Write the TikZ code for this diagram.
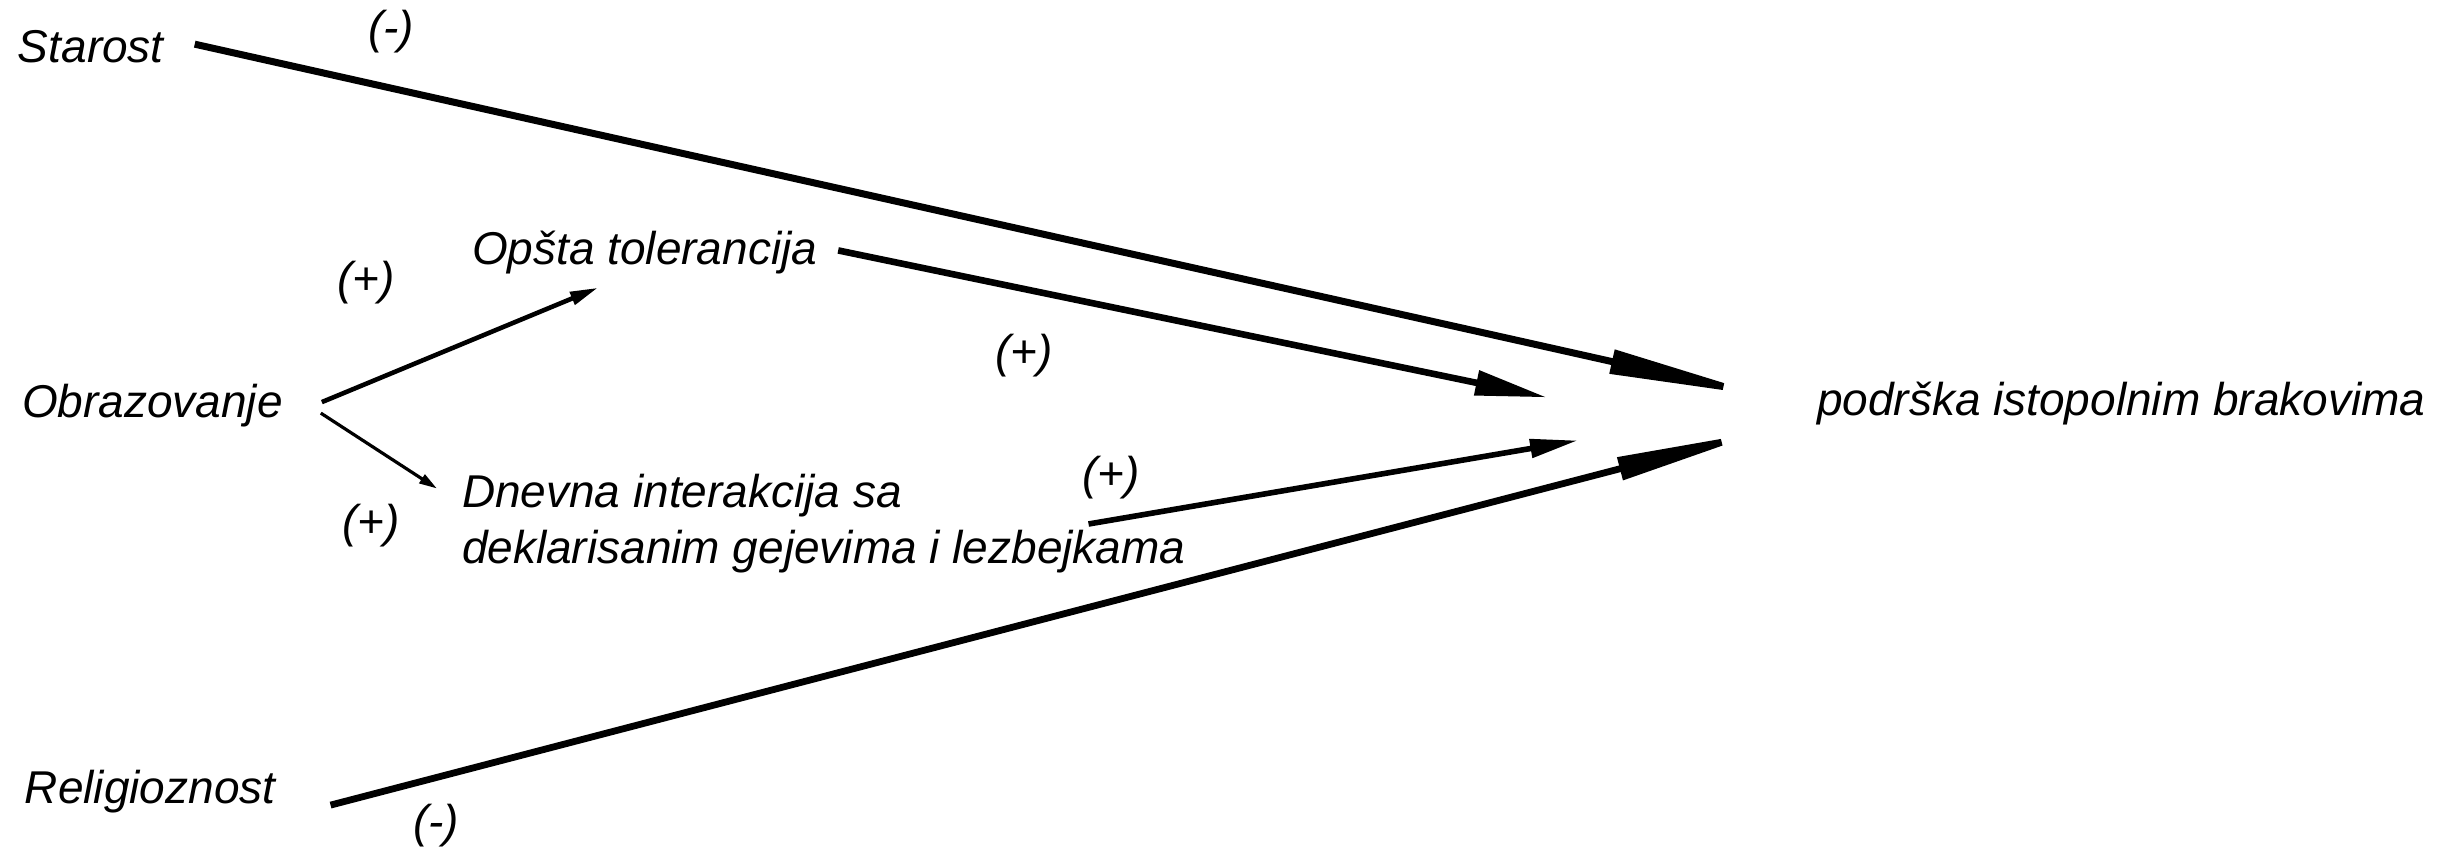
\documentclass[tikz,border=0pt]{standalone}
\usepackage{fontspec}
\setmainfont{Liberation Sans}
\usetikzlibrary{arrows.meta}
\tikzset{
  lbl/.style={anchor=base west, inner sep=0pt, outer sep=0pt, font=\itshape\fontsize{23}{28}\selectfont},
  conn/.style={draw=black},
}
\begin{document}
\begin{tikzpicture}[x=0.5pt,y=-0.5pt]
\useasboundingbox (0,0) rectangle (2463,850);
% nodes
\node[lbl] (starost) at (18,63) {Starost};
\node[lbl] (obr) at (22,417) {Obrazovanje};
\node[lbl] (relig) at (25,803) {Religioznost};
\node[lbl] (opsta) at (472,265) {Opšta tolerancija};
\node[lbl, anchor=west, align=left] (dnevna) at (462,524) {Dnevna interakcija sa\\deklarisanim gejevima i lezbejkama};
\node[lbl] (target) at (1817,415) {podrška istopolnim brakovima};
% signs
\node[lbl] (s1) at (368,44) {(-)};
\node[lbl] (s2) at (337,294) {(+)};
\node[lbl] (s3) at (342,537) {(+)};
\node[lbl] (s4) at (995,367) {(+)};
\node[lbl] (s5) at (1082,489) {(+)};
\node[lbl] (s6) at (413,837) {(-)};
% connectors
\draw[conn, line width=3.5pt, -{Triangle[length=82pt,width=11.5pt]}]
  ([xshift=15.5pt,yshift=1.5pt]starost.east) -- ([xshift=-22.5pt,yshift=2.8pt]target.west);
\draw[conn, line width=3.4pt, -{Triangle[length=76pt,width=11pt]}]
  ([xshift=27.5pt,yshift=-7pt]relig.east) -- ([xshift=-25pt,yshift=-13.7pt]target.west);
\draw[conn, line width=3.3pt, -{Triangle[length=36pt,width=12pt]}]
  ([xshift=10.5pt,yshift=1.3pt]opsta.east) -- ([xshift=-135pt,yshift=2.8pt]target.west);
\draw[conn, line width=2.8pt, -{Triangle[length=24pt,width=9pt]}]
  ([xshift=-48.5pt]dnevna.east) -- ([xshift=-119.5pt,yshift=-18.7pt]target.west);
\draw[conn, line width=2.3pt, -{Triangle[length=14pt,width=6.5pt]}]
  ([xshift=19.5pt,yshift=1.5pt]obr.east) -- ([xshift=63pt,yshift=-6.6pt]opsta.south west);
\draw[conn, line width=1.6pt, -{Triangle[length=9pt,width=5pt]}]
  ([xshift=19pt,yshift=-4pt]obr.east) -- ([xshift=-12.5pt,yshift=-7pt]dnevna.north west);
\end{tikzpicture}
\end{document}
